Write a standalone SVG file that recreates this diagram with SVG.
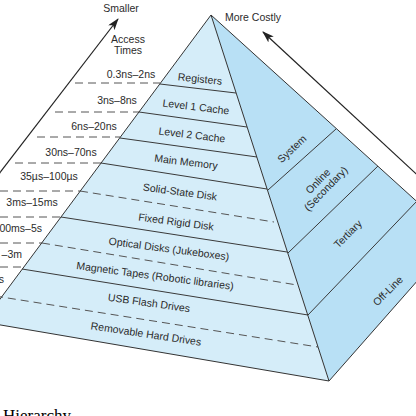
<svg xmlns="http://www.w3.org/2000/svg" width="416" height="416" viewBox="0 0 416 416">
<style>
text{font-family:"Liberation Sans",Arial,Helvetica,sans-serif;font-size:10.5px;fill:#2b2b2b}
.lbl{text-anchor:middle}
.edge{stroke:#333;stroke-width:1;fill:none}
.band{stroke:#3a3a3a;stroke-width:1;fill:none}
.dash{stroke:#555;stroke-width:1;fill:none;stroke-dasharray:8 5}
.arrow{stroke:#222;stroke-width:1.2;fill:none;marker-end:url(#ah)}
.cap{font-family:"Liberation Serif","Times New Roman",serif;font-size:17px;fill:#000}
</style>
<defs>
<marker id="ah" viewBox="0 0 12 8" refX="11" refY="4" markerWidth="12" markerHeight="8" markerUnits="userSpaceOnUse" orient="auto">
<path d="M0,0 L12,4 L0,8 L3,4 z" fill="#222"/>
</marker>
</defs>
<rect width="416" height="416" fill="#fff"/>
<g id="pyramid">
<polygon points="211,15 456,237 329,381" fill="#b8e0f5"/>
<polygon points="211,15 329,381 -17,322" fill="#d5edf9"/>
</g>
<g id="connectors">
<line class="arrow" x1="-12" y1="188" x2="118" y2="19"/>
<line class="arrow" x1="440" y1="196" x2="263" y2="32"/>
<line class="dash" x1="75" y1="83" x2="160" y2="83"/>
<line class="dash" x1="55" y1="112" x2="139" y2="112"/>
<line class="dash" x1="37" y1="137" x2="120" y2="137"/>
<line class="dash" x1="15" y1="163" x2="101" y2="163"/>
<line class="dash" x1="0" y1="191" x2="80" y2="191"/>
<line class="dash" x1="0" y1="217" x2="61" y2="217"/>
<line class="dash" x1="0" y1="243" x2="42" y2="243"/>
<line class="dash" x1="0" y1="267" x2="22" y2="267"/>
<line class="band" x1="160" y1="84" x2="236" y2="93"/>
<line class="band" x1="139" y1="112" x2="247" y2="127"/>
<line class="band" x1="120" y1="138" x2="257" y2="157"/>
<line class="band" x1="101" y1="163" x2="267" y2="189"/>
<line class="dash" x1="80" y1="191" x2="274" y2="222"/>
<line class="band" x1="61" y1="217" x2="287" y2="252"/>
<line class="dash" x1="42" y1="243" x2="297" y2="285"/>
<line class="band" x1="22" y1="269" x2="308" y2="315"/>
<line class="dash" x1="-5" y1="296" x2="318" y2="347"/>
<line class="band" x1="268" y1="190" x2="336" y2="129"/>
<line class="band" x1="288" y1="253" x2="378" y2="166"/>
<line class="band" x1="308" y1="315" x2="417" y2="201"/>
<polyline class="edge" points="-17,322 211,15 329,381 -17,322"/>
<polyline class="edge" points="211,15 456,237 329,381"/>
</g>
<g id="access-times">
<text class="lbl" x="121" y="12">Smaller</text>
<text class="lbl" x="128" y="43">Access</text>
<text class="lbl" x="128" y="54">Times</text>
<text class="lbl" x="131" y="78">0.3ns–2ns</text>
<text class="lbl" x="117" y="104">3ns–8ns</text>
<text class="lbl" x="94" y="130">6ns–20ns</text>
<text class="lbl" x="71" y="156">30ns–70ns</text>
<text class="lbl" x="49" y="180">35µs–100µs</text>
<text class="lbl" x="32" y="206">3ms–15ms</text>
<text x="42" y="232" text-anchor="end">00ms–5s</text>
<text x="22" y="258" text-anchor="end">–3m</text>
<text x="4" y="283" text-anchor="end">s</text>
</g>
<g id="more-costly"><text x="225" y="21">More Costly</text></g>
<g id="registers"><text class="lbl" transform="translate(200,79) rotate(6)" y="3.5">Registers</text></g>
<g id="level1"><text class="lbl" transform="translate(196,107) rotate(7)" y="3.5">Level 1 Cache</text></g>
<g id="level2"><text class="lbl" transform="translate(192,135) rotate(7)" y="3.5">Level 2 Cache</text></g>
<g id="main-memory"><text class="lbl" transform="translate(186,162) rotate(7)" y="3.5">Main Memory</text></g>
<g id="ssd"><text class="lbl" transform="translate(180,192) rotate(7.5)" y="3.5">Solid-State Disk</text></g>
<g id="fixed"><text class="lbl" transform="translate(176,222) rotate(7.5)" y="3.5">Fixed Rigid Disk</text></g>
<g id="optical"><text class="lbl" transform="translate(169,249) rotate(7.5)" y="3.5">Optical Disks (Jukeboxes)</text></g>
<g id="magnetic"><text class="lbl" transform="translate(155,276) rotate(7.5)" y="3.5">Magnetic Tapes (Robotic libraries)</text></g>
<g id="usb"><text class="lbl" transform="translate(149,303) rotate(8)" y="3.5">USB Flash Drives</text></g>
<g id="removable"><text class="lbl" transform="translate(146,334) rotate(8.5)" y="3.5">Removable Hard Drives</text></g>
<g id="system"><text class="lbl" transform="translate(292,149) rotate(-43)" y="3.5">System</text></g>
<g id="online"><text class="lbl" transform="translate(322,185) rotate(-46)"><tspan x="0" y="-2">Online</tspan><tspan x="0" y="9">(Secondary)</tspan></text></g>
<g id="tertiary"><text class="lbl" transform="translate(348,234) rotate(-45)" y="3.5">Tertiary</text></g>
<g id="offline"><text class="lbl" transform="translate(388,291) rotate(-45)" y="3.5">Off-Line</text></g>
<g id="caption"><text class="cap" x="3" y="421">Hierarchy</text></g>
</svg>
